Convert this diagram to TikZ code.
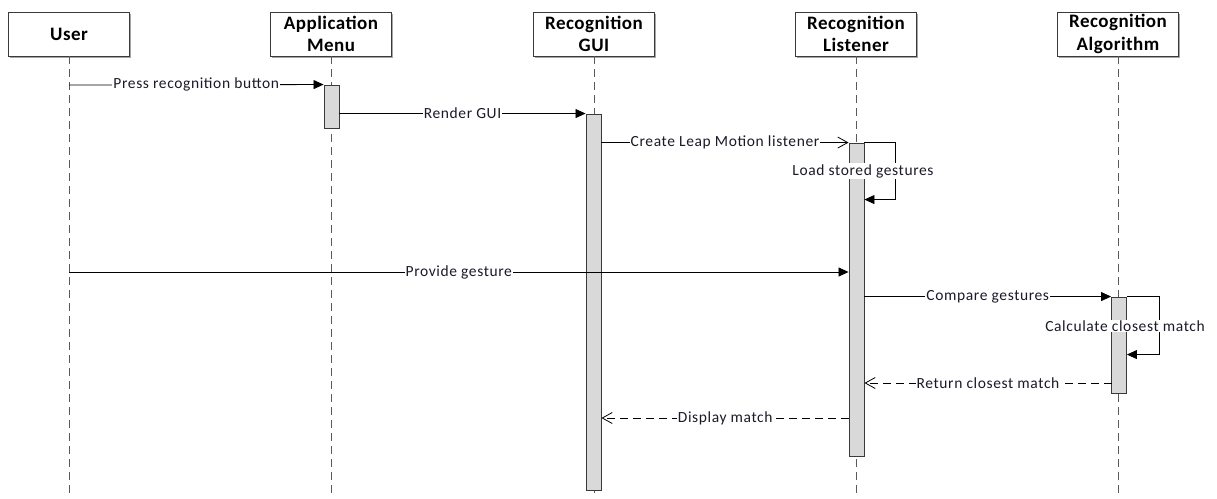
\documentclass[tikz,border=0pt]{standalone}
\usepackage{fontspec}
\setmainfont{Carlito}
\newfontfamily\lblfont[LetterSpace=4]{Carlito}
\newfontfamily\headfont[LetterSpace=2.5]{Carlito}
\usetikzlibrary{arrows.meta,calc}

\definecolor{lifegray}{HTML}{5A5A5A}
\definecolor{barfill}{HTML}{D9D9D9}
\definecolor{edgegray}{HTML}{3A3A3A}
\definecolor{txt}{HTML}{1A1A2A}

\tikzset{
  actor/.style={draw=edgegray, line width=0.9pt, fill=white, minimum width=121pt,
    minimum height=44pt, inner sep=0pt, align=center, text=black,
    font=\headfont\fontsize{19}{22.5}\selectfont\bfseries},
  actorshadow/.style={fill=black!35, draw=none, minimum width=121pt, minimum height=44pt},
  lifeline/.style={draw=lifegray, line width=1pt, dash pattern=on 8pt off 5pt},
  actbar/.style={draw=edgegray, line width=0.9pt, fill=barfill, minimum width=15pt,
    inner sep=0pt},
  msg/.style={draw=black, line width=0.8pt, -{Triangle[length=10pt,width=9pt]}},
  asyncmsg/.style={draw=black, line width=0.8pt, -{Straight Barb[length=10pt,width=11pt,line width=0.8pt]}},
  reply/.style={draw=black, line width=0.8pt, dash pattern=on 8pt off 5pt,
    -{Straight Barb[length=10pt,width=11pt,line width=0.8pt]}},
  lbl/.style={fill=white, inner sep=1pt, text=txt, font=\lblfont\fontsize{15.5}{17}\selectfont},
}

\begin{document}
\begin{tikzpicture}[x=1pt, y=-1pt]
\useasboundingbox (0,0) rectangle (1217,498);

% participant shadows
\foreach \cx in {69,331,594,856,1118}
  \node[actorshadow] at (\cx+1.5,35.5) {};

% participants
\node[actor] (user) at (69,34) {User};
\node[actor] (menu) at (331,34) {Application\\Menu};
\node[actor] (gui)  at (594,34) {Recognition\\GUI};
\node[actor] (lis)  at (856,34) {Recognition\\Listener};
\node[actor] (alg)  at (1118,34) {Recognition\\Algorithm};

% lifeline ends
\coordinate (userend) at (69,498);
\coordinate (menuend) at (331,498);
\coordinate (guiend)  at (594,498);
\coordinate (lisend)  at (856,498);
\coordinate (algend)  at (1118,498);

\draw[lifeline] (user.south) -- (userend);
\draw[lifeline] (menu.south) -- (menuend);
\draw[lifeline] (gui.south)  -- (guiend);
\draw[lifeline] (lis.south)  -- (lisend);
\draw[lifeline] (alg.south)  -- (algend);

% activation bars
\node[actbar, minimum height=43pt]  (menubar) at (331.5,106.5) {};
\node[actbar, minimum height=376pt] (guibar)  at (593.5,302) {};
\node[actbar, minimum height=313pt] (lisbar)  at (856.5,299.5) {};
\node[actbar, minimum height=96pt]  (algbar)  at (1119,345) {};

% Press recognition button
\coordinate (m1) at (69,85);
\draw[msg] (m1) -- (menubar.north west)
  node[midway, lbl] {Press recognition button};

% Render GUI
\draw[msg] (menubar.east |- guibar.north) -- (guibar.north west)
  node[midway, lbl] {Render GUI};

% Create Leap Motion listener
\draw[asyncmsg] (guibar.east |- lisbar.north) -- (lisbar.north west)
  node[midway, lbl] {Create Leap Motion listener};

% Load stored gestures (self call)
\coordinate (s1a) at ($(lisbar.north east)+(31,0)$);
\coordinate (s1b) at ($(lisbar.north east)+(31,57)$);
\draw[msg] (lisbar.north east) -- (s1a) -- (s1b) -- (lisbar.east |- s1b);
\node[lbl] (s1lbl) at (863,171) {Load stored gestures};

% Provide gesture
\coordinate (m5) at (69,272);
\draw[msg] (m5) -- (lisbar.west |- m5)
  node[midway, lbl] {Provide gesture};

% Compare gestures
\draw[msg] (lisbar.east |- algbar.north) -- (algbar.north west)
  node[midway, lbl] {Compare gestures};

% Calculate closest match (self call)
\coordinate (s2a) at ($(algbar.north east)+(32,0)$);
\coordinate (s2b) at ($(algbar.north east)+(32,58)$);
\draw[msg] (algbar.north east) -- (s2a) -- (s2b) -- (algbar.east |- s2b);
\node[lbl] (s2lbl) at (1125,326) {Calculate closest match};

% Return closest match
\coordinate (m8) at (1111.5,383);
\draw[reply] (m8) -- (lisbar.east |- m8)
  node[midway, lbl] {Return closest match};

% Display match
\coordinate (m9) at (849,418);
\draw[reply] (m9) -- (guibar.east |- m9)
  node[midway, lbl] {Display match};

\end{tikzpicture}
\end{document}
